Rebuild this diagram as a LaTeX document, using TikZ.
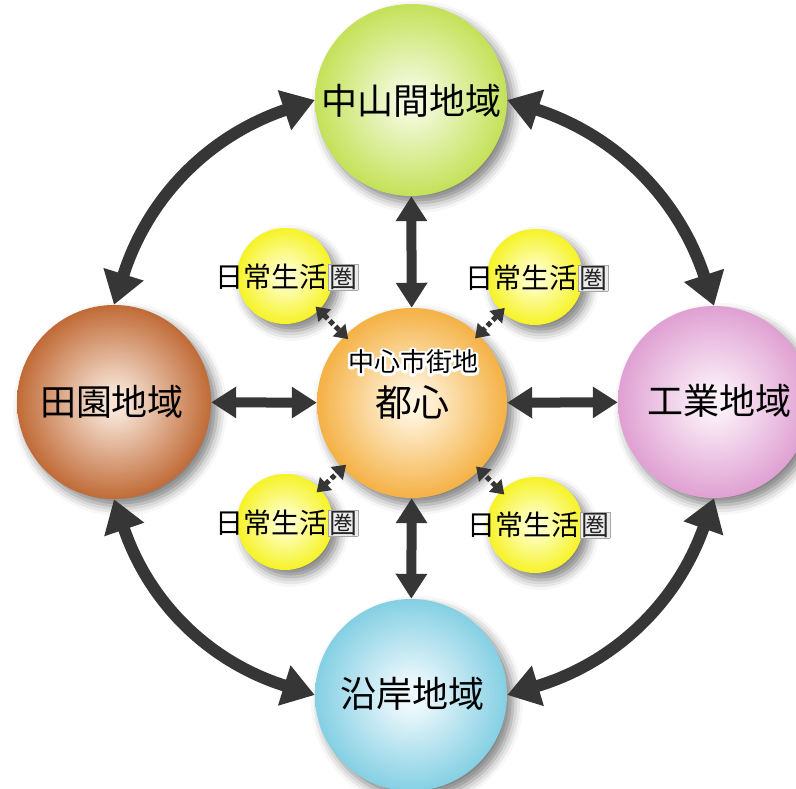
\documentclass[tikz,border=0pt]{standalone}
\usepackage{fontspec}
\newfontfamily\cjk{Noto Sans CJK JP}
\usetikzlibrary{arrows.meta,shadows.blur}

\definecolor{arrowc}{HTML}{363636}
\definecolor{gIn}{HTML}{F4FADF}\definecolor{gOut}{HTML}{B9DC3A}
\definecolor{bIn}{HTML}{F7E4D6}\definecolor{bOut}{HTML}{B44F12}
\definecolor{pIn}{HTML}{FBF0F8}\definecolor{pOut}{HTML}{D98ECA}
\definecolor{cIn}{HTML}{EFF9FC}\definecolor{cOut}{HTML}{6CC6DE}
\definecolor{oIn}{HTML}{FFF4DE}\definecolor{oOut}{HTML}{F2A222}
\definecolor{yIn}{HTML}{FFFFD0}\definecolor{yOut}{HTML}{F4F000}

\newcommand{\mkshade}[3]{\pgfdeclareradialshading{#1}{\pgfpoint{0bp}{0bp}}{color(0bp)=(#2); color(3bp)=(#2); color(30bp)=(#3); color(46bp)=(#3); color(50bp)=(#3!90!black)}}
\mkshade{shgreen}{gIn}{gOut}
\mkshade{shbrown}{bIn}{bOut}
\mkshade{shpink}{pIn}{pOut}
\mkshade{shblue}{cIn}{cOut}
\mkshade{shorange}{oIn}{oOut}
\mkshade{shyellow}{yIn}{yOut}

\newcommand{\kenbox}[1]{{\setlength{\fboxsep}{0.6pt}\setlength{\fboxrule}{0.6pt}\fcolorbox{gray!70}{gray!15}{\textcolor{black!85}{#1}}}}
% white outline (stroked glyphs) behind the text
\newcommand{\halostroke}[1]{\special{pdf:literal direct 1 Tr 5 w 1 j 1 1 1 RG}#1\special{pdf:literal direct 0 Tr 0.4 w 0 j 0 0 0 RG}}

\begin{document}
\begin{tikzpicture}[x=1pt,y=1pt,
  ball/.style={circle, draw=none, inner sep=0pt, shade,
    blur shadow={shadow xshift=6pt, shadow yshift=-7pt, shadow blur radius=10pt, shadow opacity=50}},
  bigball/.style={ball, minimum size=192pt},
  smallball/.style={ball, minimum size=96pt},
  biglbl/.style={font=\cjk\fontsize{36}{40}\selectfont, text=black, inner sep=0pt},
  dslbl/.style={font=\cjk\fontsize{28}{32}\selectfont, text=black, inner sep=0pt},
  straightarrow/.style={draw=arrowc, line width=10pt, arrows={Triangle[width=30pt,length=25pt]-Triangle[width=30pt,length=25pt]}},
  curvearrow/.style={draw=arrowc, line width=12pt, arrows={Triangle[width=40pt,length=32pt]-Triangle[width=40pt,length=32pt]}},
  dasharrow/.style={draw=arrowc, line width=5pt, dash pattern=on 5pt off 3pt, shorten <=-5pt, shorten >=-5pt,
    arrows={Triangle[width=17pt,length=13pt]-Triangle[width=17pt,length=13pt]}}
]
\useasboundingbox (0,0) rectangle (796,789);

% large circles
\node[bigball, shading=shgreen]  (top)    at (411,689) {};
\node[bigball, shading=shbrown, minimum size=194pt] (left) at (114,387) {};
\node[bigball, shading=shpink]   (right)  at (714,387) {};
\node[bigball, shading=shblue]   (bottom) at (411,94)  {};
\node[bigball, shading=shorange, minimum size=190pt] (c) at (412,386) {};

% small circles
\node[smallball, shading=shyellow] (y1) at (285,513) {};
\node[smallball, shading=shyellow] (y2) at (535,512) {};
\node[smallball, shading=shyellow] (y3) at (285,267) {};
\node[smallball, shading=shyellow] (y4) at (535,264) {};

% labels
\node[biglbl] (toplbl)    at (411,688) {中山間地域};
\node[biglbl] (leftlbl)   at (112,387) {田園地域};
\node[biglbl] (rightlbl)  at (719,388) {工業地域};
\node[biglbl] (bottomlbl) at (412,95)  {沿岸地域};
\node[font=\cjk\fontsize{37}{40}\selectfont, inner sep=0pt] (clbl2) at (412,386) {都心};
\node[dslbl] (y1lbl) at (287,512) {日常生活\kenbox{圏}};
\node[dslbl] (y2lbl) at (537,511) {日常生活\kenbox{圏}};
\node[dslbl] (y3lbl) at (287,266) {日常生活\kenbox{圏}};
\node[dslbl] (y4lbl) at (539,264) {日常生活\kenbox{圏}};

% straight arrows
\draw[straightarrow] (c) -- (top);
\draw[straightarrow] (c) -- (bottom);
\draw[straightarrow] (c) -- (left);
\draw[straightarrow] (c) -- (right);

% curved arrows
\draw[curvearrow] (top.west) to[bend right=27] (left.north);
\draw[curvearrow] (top.east) to[bend left=27] (right.north);
\draw[curvearrow] (left.south) to[bend right=27] (bottom.west);
\draw[curvearrow] (right.south) to[bend left=27] (bottom.east);

% dashed arrows
\draw[dasharrow] (y1) -- (c);
\draw[dasharrow] (y2) -- (c);
\draw[dasharrow] (y3) -- (c);
\draw[dasharrow] (y4) -- (c);

% outlined label of the centre
\node[font=\cjk\fontsize{26}{30}\selectfont, inner sep=0pt] (clbl1halo) at (413,427) {\halostroke{中心市街地}};
\node[font=\cjk\fontsize{26}{30}\selectfont, inner sep=0pt] (clbl1) at (413,427) {中心市街地};
\end{tikzpicture}
\end{document}
